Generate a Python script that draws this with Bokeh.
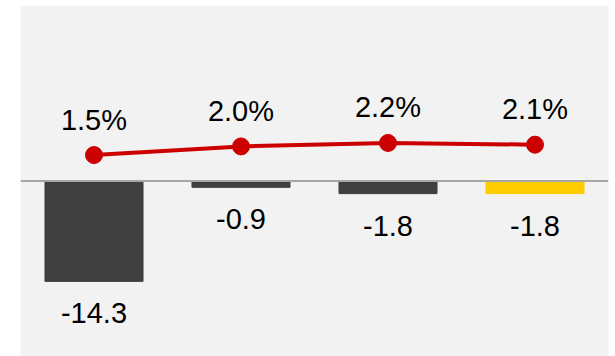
from bokeh.plotting import figure
from bokeh.models import Range1d, FactorRange, Span, ColumnDataSource, LabelSet
from bokeh.core.properties import value
from bokeh.embed import file_html
from bokeh.resources import INLINE

categories = ["P1", "P2", "P3", "P4"]
bar_values = [-14.3, -0.9, -1.8, -1.8]
bar_labels = ["-14.3", "-0.9", "-1.8", "-1.8"]
bar_colors = ["#404040", "#404040", "#404040", "#ffcc00"]
line_values = [1.5, 2.0, 2.2, 2.1]
line_labels = ["1.5%", "2.0%", "2.2%", "2.1%"]

FONT = value("Liberation Sans Narrow, Liberation Sans")

p = figure(width=615, height=356, x_range=FactorRange(*categories, range_padding=0),
           y_range=Range1d(-25, 25), output_backend="svg", toolbar_location=None,
           x_axis_type=None, y_axis_type=None,
           min_border_left=20, min_border_right=7, min_border_top=5, min_border_bottom=0)
p.extra_y_ranges = {"pct": Range1d(-10.15, 10.15)}
p.background_fill_color = "#f2f2f2"
p.border_fill_color = "white"
p.outline_line_color = None
p.xgrid.visible = False
p.ygrid.visible = False

bsrc = ColumnDataSource(dict(x=categories, top=bar_values, color=bar_colors, label=bar_labels))
p.vbar(x="x", top="top", bottom=0, width=0.667, color="color", source=bsrc)

p.add_layout(Span(location=0, dimension="width", line_color="#a6a6a6", line_width=2))

lsrc = ColumnDataSource(dict(x=categories, y=line_values, label=line_labels))
p.line(x="x", y="y", source=lsrc, y_range_name="pct", line_color="#cc0000", line_width=4)
p.scatter(x="x", y="y", source=lsrc, y_range_name="pct", size=17,
          fill_color="#cc0000", line_color="#cc0000")

p.add_layout(LabelSet(x="x", y="top", text="label", source=bsrc, y_offset=-42,
                      text_align="center", text_baseline="alphabetic",
                      text_font=FONT, text_font_size="29px", text_color="black"))
p.add_layout(LabelSet(x="x", y="y", text="label", source=lsrc, y_range_name="pct",
                      y_offset=25.5, text_align="center", text_baseline="alphabetic",
                      text_font=FONT, text_font_size="29px", text_color="black"))

open("out.html", "w").write(file_html(p, INLINE))
